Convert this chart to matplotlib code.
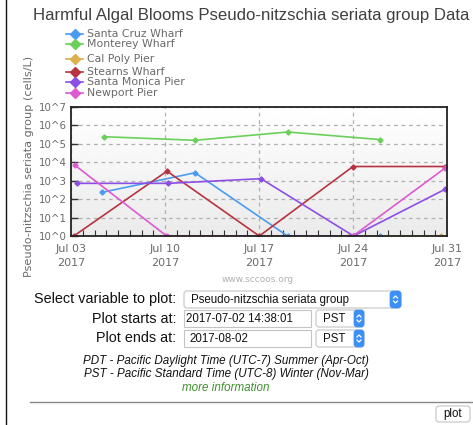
import numpy as np
import matplotlib
matplotlib.use("Agg")
import matplotlib.pyplot as plt
import matplotlib.dates as mdates
from matplotlib.patches import FancyBboxPatch, Rectangle
from datetime import datetime

W, H = 473, 425

stations = ["Santa Cruz Wharf", "Monterey Wharf", "Cal Poly Pier",
            "Stearns Wharf", "Santa Monica Pier", "Newport Pier"]
colors = ["#4b9bf0", "#6bd05a", "#dcb04c", "#b83340", "#8c4fe4", "#dc5ad2"]

santa_cruz_t = ["2017-07-05 08:00", "2017-07-12 05:30", "2017-07-19 03:00", "2017-07-26 01:00"]
santa_cruz_v = [235, 2700, 1, 1]
monterey_t = ["2017-07-05 11:00", "2017-07-12 05:30", "2017-07-19 03:30", "2017-07-26 01:00"]
monterey_v = [245000, 156000, 440000, 170000]
cal_poly_t = ["2017-07-23 17:00", "2017-07-30 13:00"]
cal_poly_v = [1, 1]
stearns_t = ["2017-07-03 05:00", "2017-07-10 03:30", "2017-07-17 00:30", "2017-07-24 00:00", "2017-07-30 20:00"]
stearns_v = [1, 3300, 1, 5900, 5900]
santa_monica_t = ["2017-07-03 10:00", "2017-07-10 06:00", "2017-07-17 03:30", "2017-07-24 01:00", "2017-07-30 21:00"]
santa_monica_v = [720, 720, 1290, 1, 350]
newport_t = ["2017-07-03 06:30", "2017-07-10 03:00", "2017-07-24 00:00", "2017-07-30 20:00"]
newport_v = [7100, 1, 1, 4700]

series_t = [santa_cruz_t, monterey_t, cal_poly_t, stearns_t, santa_monica_t, newport_t]
series_v = [santa_cruz_v, monterey_v, cal_poly_v, stearns_v, santa_monica_v, newport_v]

tick_dates = ["2017-07-03", "2017-07-10", "2017-07-17", "2017-07-24", "2017-07-31"]
tick_labels = ["Jul 03\n2017", "Jul 10\n2017", "Jul 17\n2017", "Jul 24\n2017", "Jul 31\n2017"]
decades = [0, 1, 2, 3, 4, 5, 6, 7]

fig = plt.figure(figsize=(W / 100, H / 100), dpi=100)

# page layer in pixel coordinates
page = fig.add_axes([0, 0, 1, 1], zorder=0)
page.set_xlim(0, W)
page.set_ylim(H, 0)
page.axis("off")

# chart axes
L, R, T, B = 71, 447, 107, 236
ax = fig.add_axes([L / W, 1 - B / H, (R - L) / W, (B - T) / H], zorder=2)

grad = np.linspace(1.0, 0.92, 100).reshape(-1, 1)
ax.imshow(grad, extent=[0, 1, 0, 1], transform=ax.transAxes, aspect="auto",
          cmap="gray", vmin=0, vmax=1, zorder=0)

for name, c, ts, vs in zip(stations, colors, series_t, series_v):
    d = [datetime.strptime(t, "%Y-%m-%d %H:%M") for t in ts]
    ax.plot(d, vs, color=c, lw=1.2, marker="D", ms=2.6, zorder=2)

x0 = mdates.date2num(datetime(2017, 7, 3))
x1 = mdates.date2num(datetime(2017, 7, 31))
ax.set_xlim(x0, x1)
ax.set_yscale("log")
ax.set_ylim(1, 1e7)

ax.set_xticks([mdates.date2num(datetime.strptime(t, "%Y-%m-%d")) for t in tick_dates])
ax.set_xticklabels(tick_labels, fontsize=8, color="#6a6a6a", family="DejaVu Sans",
                   linespacing=1.45)
ax.set_xticks(np.linspace(x0, x1, 33), minor=True)
ax.tick_params(axis="x", which="major", length=0, pad=6)
ax.tick_params(axis="x", which="minor", direction="in", length=4, width=0.8, color="#333")

ax.set_yticks([10.0 ** k for k in decades])
ax.set_yticklabels(["10^%d" % k for k in decades], fontsize=7.4, color="#6a6a6a",
                   family="DejaVu Sans")
ax.yaxis.set_minor_locator(matplotlib.ticker.LogLocator(base=10, subs=np.arange(2, 10)))
ax.yaxis.set_minor_formatter(matplotlib.ticker.NullFormatter())
ax.tick_params(axis="y", which="major", direction="in", length=5, width=1, color="#333", pad=3)
ax.tick_params(axis="y", which="minor", direction="in", length=3, width=0.7, color="#333")

ax.set_axisbelow(True)
ax.grid(True, which="major", color="#b0b0b0", ls=(0, (3, 3)), lw=0.9)
for s in ax.spines.values():
    s.set_linewidth(1.3)
    s.set_color("#222")
    s.set_zorder(3)

# left page border
page.plot([6, 6], [0, H], color="#111", lw=1)

# title
page.text(251, 15, "Harmful Algal Blooms Pseudo-nitzschia seriata group Data",
          ha="center", va="center", fontsize=12.1, color="#404040", family="Liberation Sans")

# legend
legend_y = [33.7, 44.3, 58.7, 71.7, 82.3, 93.3]
for name, c, yy in zip(stations, colors, legend_y):
    page.plot([66, 83], [yy, yy], color=c, lw=1.2)
    page.plot([74.5], [yy], marker="D", ms=4.8, color=c)
    page.text(87, yy, name, ha="left", va="center", fontsize=7.8,
              color="#6a6a6a", family="DejaVu Sans")

# y label
page.text(29, 166, "Pseudo-nitzschia seriata group (cells/L)", rotation=90,
          ha="center", va="center", fontsize=8.1, color="#6a6a6a", family="DejaVu Sans")

page.text(258, 279, "www.sccoos.org", ha="center", va="center", fontsize=6.5,
          color="#b0b0b0", family="DejaVu Sans")

# form
lab = dict(ha="right", va="center", fontsize=10.4, color="#111", family="Liberation Sans")
page.text(176, 299, "Select variable to plot:", **lab)
page.text(176, 319, "Plot starts at:", **lab)
page.text(176, 338.5, "Plot ends at:", **lab)


def box(x, y, w, h, rounded=False):
    if rounded:
        p = FancyBboxPatch((x, y), w, h, boxstyle="round,pad=0,rounding_size=3",
                           fc="white", ec="#c4c4c4", lw=0.8)
    else:
        p = Rectangle((x, y), w, h, fc="white", ec="#c4c4c4", lw=0.8)
    page.add_patch(p)


def stepper(x, y, w, h):
    page.add_patch(FancyBboxPatch((x, y), w, h, boxstyle="round,pad=0,rounding_size=3",
                                  fc="#3b8ff5", ec="#3b8ff5", lw=0.5))
    cx, cy = x + w / 2, y + h / 2
    page.plot([cx - 2, cx, cx + 2], [cy - 1.5, cy - 3.5, cy - 1.5], color="white", lw=0.9)
    page.plot([cx - 2, cx, cx + 2], [cy + 1.5, cy + 3.5, cy + 1.5], color="white", lw=0.9)


inp = dict(ha="left", va="center", fontsize=8.3, color="#111", family="Liberation Sans")

box(184, 291, 217, 17, rounded=True)
stepper(390, 291, 11, 17)
page.text(191, 299.5, "Pseudo-nitzschia seriata group", **inp)

box(184, 310, 127, 17)
page.text(186, 318.5, "2017-07-02 14:38:01", **inp)
box(316, 310, 48, 17, rounded=True)
stepper(354, 310, 10, 17)
page.text(323, 318.5, "PST", **inp)

box(184, 330, 127, 17)
page.text(189, 338.5, "2017-08-02", **inp)
box(316, 330, 48, 17, rounded=True)
stepper(354, 330, 10, 17)
page.text(323, 338.5, "PST", **inp)

it = dict(ha="center", va="center", fontsize=8.4, color="#111",
          family="Liberation Sans", style="italic")
page.text(226, 361, "PDT - Pacific Daylight Time (UTC-7) Summer (Apr-Oct)", **it)
page.text(226, 374.5, "PST - Pacific Standard Time (UTC-8) Winter (Nov-Mar)", **it)
page.text(226, 388, "more information", ha="center", va="center", fontsize=8.4,
          color="#3f8f2f", family="Liberation Sans", style="italic")

page.plot([30, W], [401.5, 401.5], color="#888", lw=1)
box(436, 406, 34, 16, rounded=True)
page.text(453, 414, "plot", ha="center", va="center", fontsize=8.3, color="#111",
          family="Liberation Sans")

fig.savefig("out.png", dpi=100)
